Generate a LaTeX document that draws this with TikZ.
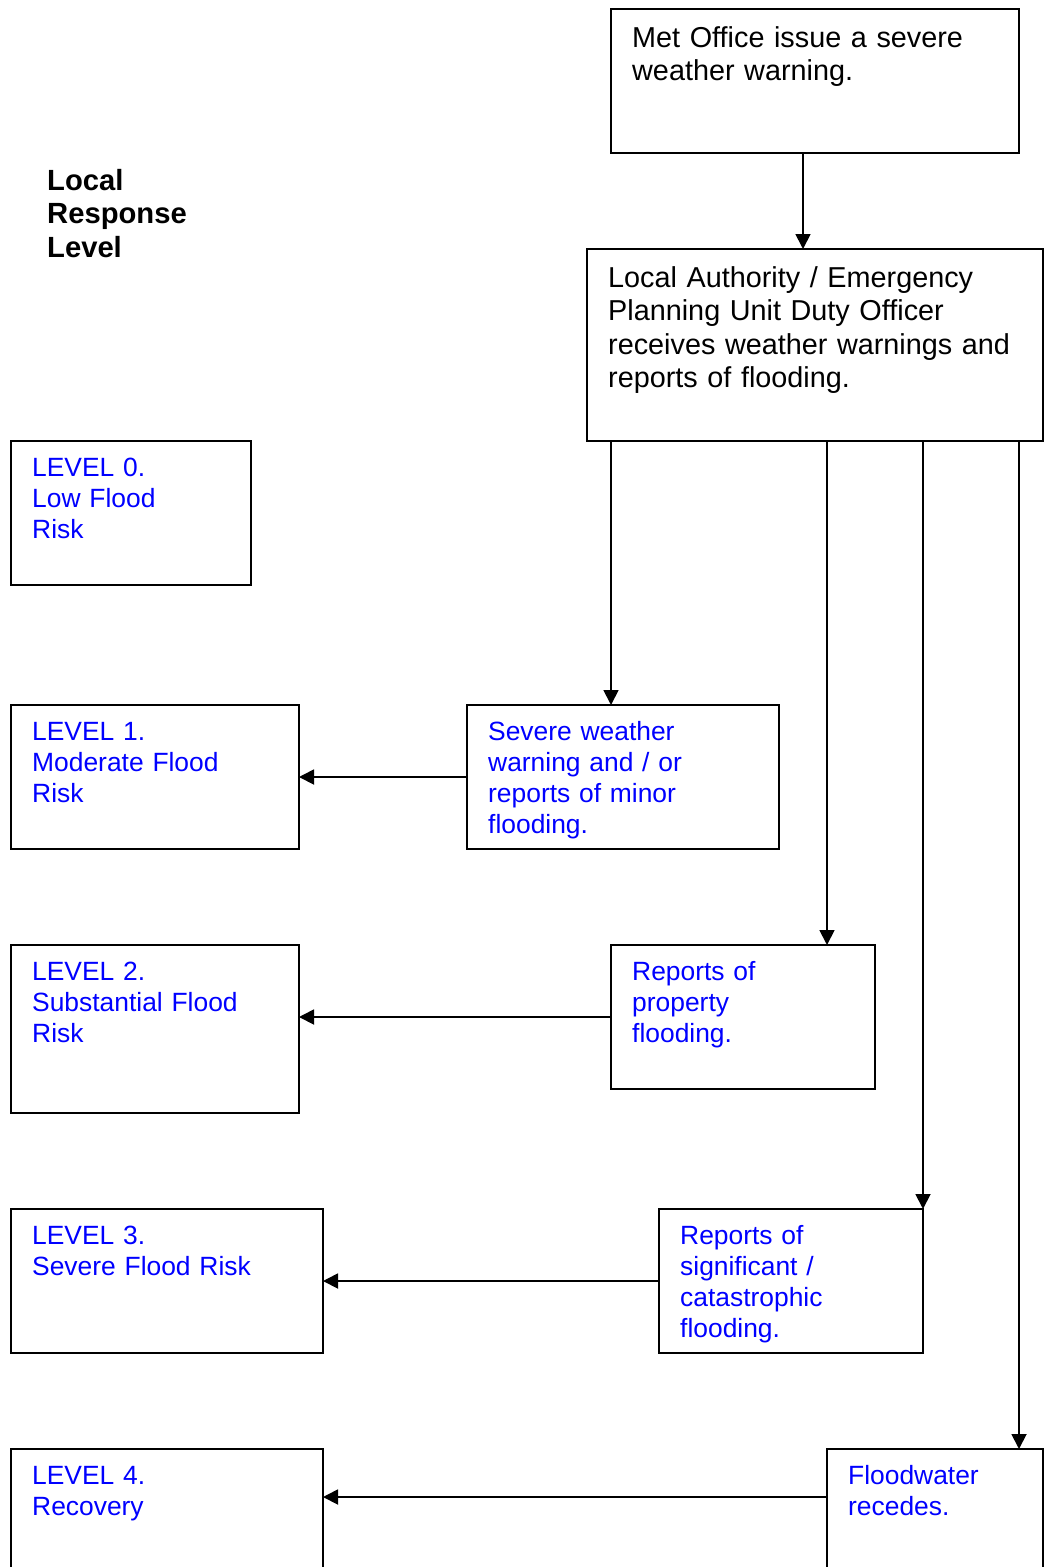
\documentclass[tikz,border=0pt]{standalone}
\usepackage{fontspec}
\setmainfont{Liberation Sans}
\usetikzlibrary{arrows.meta,calc}
\definecolor{txtblue}{RGB}{0,0,255}
\begin{document}
\begin{tikzpicture}[x=1pt,y=-1pt,
  box/.style={draw, line width=1.8pt, anchor=north west, inner sep=0pt, outer sep=0pt},
  blk/.style={anchor=base west, inner sep=0pt, text width=440pt, align=left, font=\fontsize{28.8}{33.5}\selectfont},
  blu/.style={anchor=base west, inner sep=0pt, text width=300pt, align=left, text=txtblue, font=\fontsize{26.4}{31}\selectfont},
  arr/.style={line width=1.8pt, -{Triangle[length=15pt,width=15pt]}}]
\useasboundingbox (0,0) rectangle (1044,1567);
\clip (0,0) rectangle (1044,1567);
% boxes
\node[box, minimum width=408pt, minimum height=144pt] (met) at (611,9) {};
\node[box, minimum width=456pt, minimum height=192pt] (la) at (587,249) {};
\node[box, minimum width=240pt, minimum height=144pt] (lev0) at (11,441) {};
\node[box, minimum width=288pt, minimum height=144pt] (lev1) at (11,705) {};
\node[box, minimum width=312pt, minimum height=144pt] (sev) at (467,705) {};
\node[box, minimum width=288pt, minimum height=168pt] (lev2) at (11,945) {};
\node[box, minimum width=264pt, minimum height=144pt] (rep) at (611,945) {};
\node[box, minimum width=312pt, minimum height=144pt] (lev3) at (11,1209) {};
\node[box, minimum width=264pt, minimum height=144pt] (sig) at (659,1209) {};
\node[box, minimum width=312pt, minimum height=200pt] (lev4) at (11,1449) {};
\node[box, minimum width=216pt, minimum height=200pt] (flood) at (827,1449) {};
% texts
\node[blk, font=\fontsize{29.2}{33.5}\selectfont\bfseries] (head) at (47,190) {Local\\Response\\Level};
\node[blk] (tmet) at ($(met.north west)+(21,38)$) {Met Office issue a severe\\weather warning.};
\node[blk] (tla) at ($(la.north west)+(21,38)$) {Local Authority / Emergency\\Planning Unit Duty Officer\\receives weather warnings and\\reports of flooding.};
\node[blu] (tlev0) at ($(lev0.north west)+(21,35)$) {LEVEL 0.\\Low Flood\\Risk};
\node[blu] (tlev1) at ($(lev1.north west)+(21,35)$) {LEVEL 1.\\Moderate Flood\\Risk};
\node[blu] (tsev) at ($(sev.north west)+(21,35)$) {Severe weather\\warning and / or\\reports of minor\\flooding.};
\node[blu] (tlev2) at ($(lev2.north west)+(21,35)$) {LEVEL 2.\\Substantial Flood\\Risk};
\node[blu] (trep) at ($(rep.north west)+(21,35)$) {Reports of\\property\\flooding.};
\node[blu] (tlev3) at ($(lev3.north west)+(21,35)$) {LEVEL 3.\\Severe Flood Risk};
\node[blu] (tsig) at ($(sig.north west)+(21,35)$) {Reports of\\significant /\\catastrophic\\flooding.};
\node[blu] (tlev4) at ($(lev4.north west)+(21,35)$) {LEVEL 4.\\Recovery};
\node[blu] (tflood) at ($(flood.north west)+(21,35)$) {Floodwater\\recedes.};
% connectors
\coordinate (xa) at (803,0);
\coordinate (xb) at (611,0);
\coordinate (xc) at (827,0);
\coordinate (xd) at (1019,0);
\draw[arr] (met.south -| xa) -- (la.north -| xa);
\draw[arr] (la.south -| xb) -- (sev.north -| xb);
\draw[arr] (la.south -| xc) -- (rep.north -| xc);
\draw[arr] (la.south -| sig.north east) -- (sig.north east);
\draw[arr] (la.south -| xd) -- (flood.north -| xd);
\draw[arr] (sev.west) -- (lev1.east);
\draw[arr] (rep.west) -- (rep.west -| lev2.east);
\draw[arr] (sig.west) -- (lev3.east);
\coordinate (fw) at ($(flood.north west)+(0,48)$);
\draw[arr] (fw) -- (fw -| lev4.east);
\end{tikzpicture}
\end{document}
